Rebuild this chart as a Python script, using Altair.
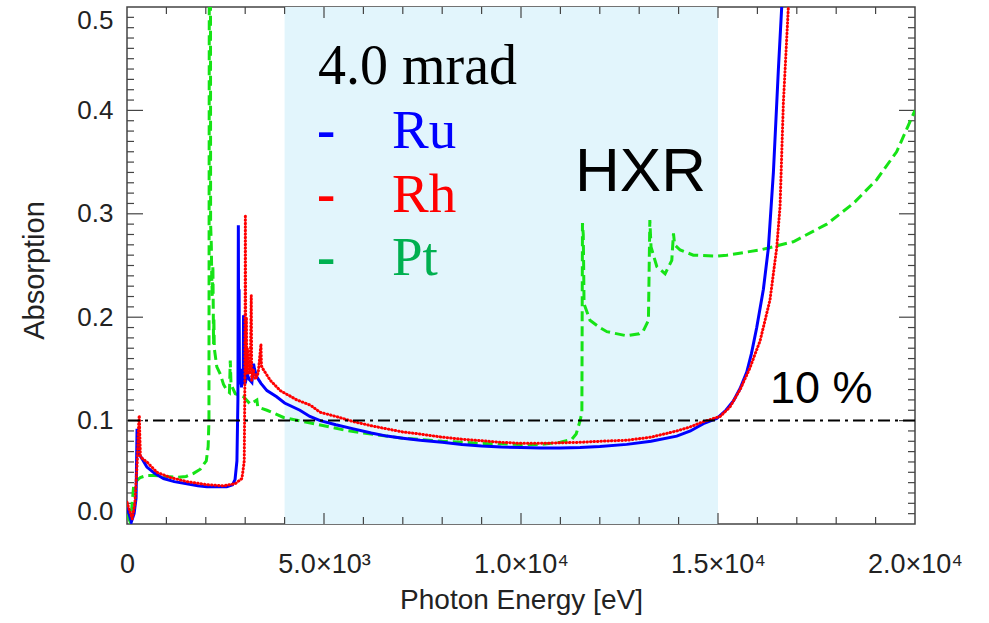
import altair as alt
import pandas as pd

# ---------------- data ----------------
ru_E = [0, 50, 110, 180, 230, 255, 285, 300, 400, 506, 700, 928, 1200, 1519, 1800, 2026, 2300, 2532, 2680, 2742,
        2790, 2815, 2826, 2836, 2845, 2855, 2880, 2905, 2930, 2950, 2958, 2968, 3000, 3050, 3100, 3170, 3212, 3235,
        3298, 3400, 3552, 3798, 4000, 4388, 4641, 4904, 5300, 5749, 6200, 6596, 7000, 7441, 8000, 8500, 9000, 9500,
        10000, 10500, 10993, 11500, 12000, 12685, 13300, 13953, 14300, 14628, 14968, 15200, 15390, 15560, 15730,
        15850, 15983, 16152, 16279, 16406, 16533, 16617, 16700]
ru_A = [0.016, 0.010, 0.002, 0.010, 0.025, 0.092, 0.082, 0.068, 0.062, 0.055, 0.049, 0.044, 0.041, 0.039, 0.037,
        0.036, 0.036, 0.036, 0.038, 0.043, 0.061, 0.120, 0.289, 0.140, 0.227, 0.135, 0.150, 0.132, 0.145, 0.135,
        0.202, 0.140, 0.136, 0.145, 0.140, 0.137, 0.155, 0.150, 0.142, 0.136, 0.129, 0.123, 0.117, 0.110, 0.104,
        0.100, 0.096, 0.092, 0.088, 0.085, 0.083, 0.081, 0.079, 0.077, 0.0755, 0.0745, 0.074, 0.0735, 0.0735,
        0.074, 0.075, 0.077, 0.080, 0.085, 0.090, 0.097, 0.102, 0.110, 0.119, 0.131, 0.147, 0.165, 0.190, 0.227,
        0.267, 0.340, 0.440, 0.500, 0.580]

rh_E = [0, 50, 130, 200, 260, 300, 312, 325, 340, 400, 506, 760, 1098, 1520, 2030, 2451, 2748, 2917, 2976, 2995,
        3004, 3015, 3030, 3045, 3070, 3100, 3130, 3154, 3165, 3200, 3260, 3330, 3400, 3412, 3450, 3636, 3889, 4312,
        4650, 4904, 5300, 5749, 6200, 6596, 7000, 7441, 8000, 8500, 9000, 9500, 10000, 10500, 11000, 11500, 12000,
        12685, 13300, 13953, 14300, 14628, 15052, 15300, 15560, 15800, 16067, 16321, 16490, 16575, 16659, 16786,
        16850]
rh_A = [0.021, 0.015, 0.005, 0.020, 0.060, 0.100, 0.105, 0.085, 0.065, 0.063, 0.060, 0.050, 0.045, 0.041, 0.038,
        0.037, 0.039, 0.044, 0.061, 0.150, 0.299, 0.150, 0.200, 0.145, 0.170, 0.145, 0.150, 0.221, 0.139, 0.150,
        0.140, 0.146, 0.174, 0.153, 0.150, 0.139, 0.129, 0.120, 0.115, 0.108, 0.104, 0.099, 0.095, 0.092, 0.089,
        0.087, 0.084, 0.082, 0.0805, 0.079, 0.078, 0.078, 0.0785, 0.079, 0.080, 0.081, 0.084, 0.090, 0.094, 0.099,
        0.104, 0.113, 0.130, 0.150, 0.177, 0.217, 0.267, 0.307, 0.407, 0.500, 0.560]

pt_E = [0, 60, 120, 167, 250, 337, 500, 675, 1000, 1268, 1500, 1690, 1860, 1950, 2012, 2060, 2080, 2090, 2118, 2122,
        2140, 2150, 2165, 2180, 2197, 2205, 2215, 2280, 2367, 2450, 2537, 2600, 2621, 2640, 2748, 2958, 3128, 3296,
        3320, 3552, 3973, 4480, 5000, 5500, 6000, 7000, 8000, 9000, 10000, 10500, 11000, 11290, 11400, 11500, 11545,
        11560, 11580, 11590, 11600, 11750, 12000, 12180, 12685, 13000, 13106, 13234, 13270, 13300, 13447, 13657,
        13827, 13870, 13900, 14038, 14375, 14968, 15222, 16067, 16912, 17760, 18434, 19027, 19534, 20000]
pt_A = [0.010, 0.004, 0.015, 0.036, 0.042, 0.045, 0.047, 0.047, 0.046, 0.045, 0.046, 0.049, 0.053, 0.058, 0.061,
        0.075, 0.100, 0.600, 0.600, 0.290, 0.270, 0.240, 0.220, 0.250, 0.174, 0.200, 0.170, 0.152, 0.145, 0.135,
        0.129, 0.127, 0.158, 0.135, 0.126, 0.123, 0.116, 0.120, 0.113, 0.110, 0.103, 0.099, 0.095, 0.091, 0.088,
        0.083, 0.080, 0.078, 0.077, 0.077, 0.079, 0.082, 0.087, 0.100, 0.108, 0.291, 0.280, 0.250, 0.213, 0.197,
        0.190, 0.186, 0.182, 0.184, 0.187, 0.197, 0.294, 0.268, 0.249, 0.242, 0.255, 0.281, 0.270, 0.265, 0.260,
        0.259, 0.260, 0.265, 0.273, 0.290, 0.310, 0.333, 0.360, 0.400]

band_range = [4000, 15000]          # HXR region
threshold = [0.1]                   # 10 % line

x_tick_values = [0, 5000, 10000, 15000, 20000]
x_tick_labels = ["0", "5.0×10³", "1.0×10⁴", "1.5×10⁴", "2.0×10⁴"]
x_minor_ticks = [1000, 2000, 3000, 4000, 6000, 7000, 8000, 9000, 11000, 12000, 13000, 14000,
                 16000, 17000, 18000, 19000]
x_major_ticks = [5000, 10000, 15000]
y_tick_values = [0.0, 0.1, 0.2, 0.3, 0.4, 0.5]
y_major_ticks = [0.1, 0.2, 0.3, 0.4]
y_minor_ticks = [0.01, 0.02, 0.03, 0.04, 0.05, 0.06, 0.07, 0.08, 0.09,
                 0.11, 0.12, 0.13, 0.14, 0.15, 0.16, 0.17, 0.18, 0.19,
                 0.21, 0.22, 0.23, 0.24, 0.25, 0.26, 0.27, 0.28, 0.29,
                 0.31, 0.32, 0.33, 0.34, 0.35, 0.36, 0.37, 0.38, 0.39,
                 0.41, 0.42, 0.43, 0.44, 0.45, 0.46, 0.47, 0.48, 0.49]

legend_title = "4.0 mrad"
legend_names = ["Ru", "Rh", "Pt"]
legend_colors = ["#0000FF", "#FF0000", "#00B050"]
region_label = "HXR"
threshold_label = "10 %"
x_title = "Photon Energy [eV]"
y_title = "Absorption"

# ---------------- layout ----------------
W, H = 788, 517
SANS = "Liberation Sans"
SERIF = "Liberation Serif"

xs = alt.Scale(domain=[0, 20000], nice=False, zero=False)
ys = alt.Scale(domain=[0, 0.5], nice=False, zero=False)

label_expr = "[" + ",".join("'%s'" % s for s in x_tick_labels) + "][indexof([" + \
    ",".join(str(v) for v in x_tick_values) + "], datum.value)]"

xaxis = alt.Axis(values=x_tick_values, labelExpr=label_expr, title=x_title, ticks=False, tickSize=0,
                 domain=False, grid=False, labelFont=SANS, labelFontSize=27, labelColor="#222",
                 labelPadding=48, labelBaseline="alphabetic", labelFlush=False, labelOverlap=False,
                 titleFont=SANS, titleFontSize=28, titleFontWeight="normal", titleColor="#222",
                 titleY=84, titleBaseline="alphabetic")
yaxis = alt.Axis(values=y_tick_values, format=".1f", title=y_title, ticks=False, tickSize=0,
                 domain=False, grid=False, labelFont=SANS, labelFontSize=26, labelColor="#222",
                 labelPadding=14, labelFlush=True, labelOverlap=False,
                 titleFont=SANS, titleFontSize=29, titleFontWeight="normal", titleColor="#222",
                 titleAngle=270, titleX=-84, titleY=263, titleBaseline="alphabetic", titleAlign="center")


def X(f):
    return alt.X(f, type="quantitative", scale=xs, axis=xaxis)


def Y(f):
    return alt.Y(f, type="quantitative", scale=ys, axis=yaxis)


def sdf(E, A):
    return pd.DataFrame({"E": E, "A": A, "i": list(range(len(E)))})


band = alt.Chart(pd.DataFrame({"s": [band_range[0]], "e": [band_range[1]]})).mark_rect(
    color="#E2F5FC").encode(x=X("s"), x2="e", y=alt.value(0), y2=alt.value(H))

tick_color = "#444"


def vticks(vals, length):
    d = pd.DataFrame({"v": vals})
    b = alt.Chart(d).mark_rule(color=tick_color, strokeWidth=1.2).encode(
        x=X("v"), y=alt.value(H), y2=alt.value(H - length))
    t = alt.Chart(d).mark_rule(color=tick_color, strokeWidth=1.2).encode(
        x=X("v"), y=alt.value(0), y2=alt.value(length))
    return [b, t]


def hticks(vals, length):
    d = pd.DataFrame({"v": vals})
    l = alt.Chart(d).mark_rule(color=tick_color, strokeWidth=1.2).encode(
        y=Y("v"), x=alt.value(0), x2=alt.value(length))
    r = alt.Chart(d).mark_rule(color=tick_color, strokeWidth=1.2).encode(
        y=Y("v"), x=alt.value(W), x2=alt.value(W - length))
    return [l, r]


ticks = vticks(x_minor_ticks, 7) + vticks(x_major_ticks, 11) + hticks(y_minor_ticks, 7) + hticks(y_major_ticks, 16)

pt_line = alt.Chart(sdf(pt_E, pt_A)).mark_line(
    color="#16E316", strokeWidth=3, strokeDash=[10, 5], clip=True).encode(
    x=X("E"), y=Y("A"), order="i:Q")
ru_line = alt.Chart(sdf(ru_E, ru_A)).mark_line(
    color="#0000FF", strokeWidth=3, clip=True).encode(
    x=X("E"), y=Y("A"), order="i:Q")
rh_line = alt.Chart(sdf(rh_E, rh_A)).mark_line(
    color="#FF0000", strokeWidth=3, strokeDash=[0.5, 3], strokeCap="round", clip=True).encode(
    x=X("E"), y=Y("A"), order="i:Q")

thr = alt.Chart(pd.DataFrame({"A": threshold})).mark_rule(
    color="black", strokeWidth=2, strokeDash=[12, 5, 3, 5]).encode(y=Y("A"))


def txt(s, x, y, size, color="black", font=SANS, weight="normal"):
    return alt.Chart(pd.DataFrame({"t": [s]})).mark_text(
        font=font, fontSize=size, color=color, align="left", baseline="alphabetic",
        fontWeight=weight).encode(x=alt.value(x), y=alt.value(y), text="t:N")


texts = [txt(legend_title, 191, 77, 56, font=SERIF)]
for k, (nm, col) in enumerate(zip(legend_names, legend_colors)):
    yb = [141, 205, 268][k]
    texts.append(txt("-", 190, yb, 55, color=col, font=SERIF, weight="bold"))
    texts.append(txt(nm, 265, yb, 55, color=col, font=SERIF))
texts.append(txt(region_label, 448, 184, 62))
texts.append(txt(threshold_label, 643, 396, 45))

chart = alt.layer(band, *ticks, pt_line, ru_line, rh_line, thr, *texts).properties(
    width=W, height=H,
    padding={"left": 127, "top": 7, "right": 989 - 127 - W, "bottom": 623 - 7 - H},
    autosize=alt.AutoSizeParams(type="none"),
    background="white",
).configure_view(stroke="#444", strokeWidth=1.5)

chart.save("out.html", embed_options={"renderer": "svg", "actions": False})
